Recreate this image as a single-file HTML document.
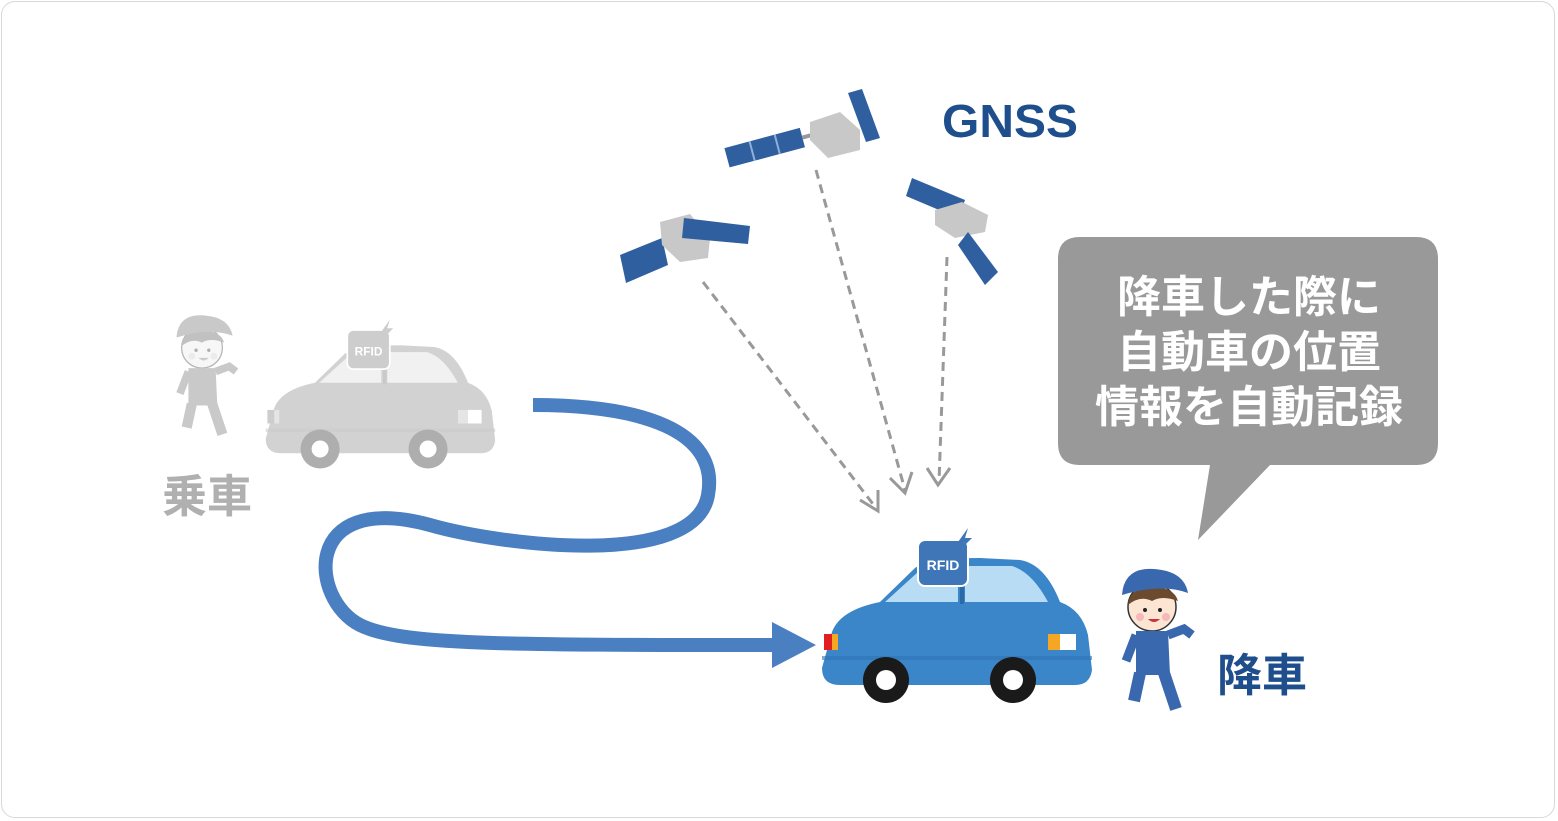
<!DOCTYPE html>
<html><head><meta charset="utf-8"><style>
html,body{margin:0;padding:0;background:#fff;}
body{width:1558px;height:821px;overflow:hidden;position:relative;font-family:"Liberation Sans","Noto Sans CJK JP",sans-serif;}
.card{position:absolute;left:1px;top:1px;width:1554px;height:817px;border:1px solid #d8d8d8;border-radius:14px;box-sizing:border-box;}
</style></head><body>
<div class="card"></div>
<svg width="1558" height="821" style="position:absolute;left:0;top:0">
<defs>
<filter id="gray"><feColorMatrix type="saturate" values="0"/><feComponentTransfer><feFuncA type="linear" slope="0.36"/></feComponentTransfer></filter>
<g id="car">
 <path d="M12,92 Q20,70 60,62 L95,28 Q110,18 160,18 L200,20 Q225,24 240,62 Q262,70 268,95 L272,130 Q270,145 255,145 L20,145 Q2,145 2,128 Z" fill="#3b86c8"/>
 <path d="M65,62 L98,32 Q108,26 138,26 L138,62 Z" fill="#b8dcf4"/>
 <path d="M145,26 L192,26 Q212,32 228,62 L145,62 Z" fill="#b8dcf4"/>
 <rect x="140" y="26" width="4" height="38" fill="#2a6aa8"/>
 <rect x="4" y="94" width="8" height="16" fill="#e02020"/><rect x="12" y="94" width="6" height="16" fill="#f5a623"/>
 <rect x="228" y="94" width="12" height="16" fill="#f5a623"/><rect x="240" y="94" width="16" height="16" fill="#fff"/>
 <rect x="2" y="116" width="270" height="4" fill="#2f74b4" opacity="0.6"/>
 <circle cx="66" cy="140" r="23" fill="#1a1a1a"/><circle cx="66" cy="140" r="10" fill="#fff"/>
 <circle cx="193" cy="140" r="23" fill="#1a1a1a"/><circle cx="193" cy="140" r="10" fill="#fff"/>
 <rect x="98" y="0" width="50" height="46" rx="7" fill="#3e76b8" stroke="#fff" stroke-width="2"/>
 <text x="123" y="30" font-size="14" font-weight="bold" fill="#fff" text-anchor="middle" font-family="Liberation Sans">RFID</text>
 <path d="M148,-12 L138,2 L145,2 L136,14 L152,-2 L145,-2 Z" fill="#3e76b8"/>
</g>
<g id="person">
 <circle cx="40" cy="42" r="24" fill="#fde5d4" stroke="#333" stroke-width="1.5"/>
 <path d="M16,40 Q18,22 40,22 Q62,22 66,36 Q50,30 40,36 Q28,30 16,40Z" fill="#6b4a2e"/>
 <path d="M10,30 Q12,2 42,4 Q72,6 76,28 Q50,18 10,30Z" fill="#3a68ae"/>
 <circle cx="33" cy="45" r="2" fill="#222"/><circle cx="48" cy="45" r="2" fill="#222"/>
 <circle cx="28" cy="52" r="4" fill="#f6b8b8"/><circle cx="54" cy="52" r="4" fill="#f6b8b8"/>
 <path d="M36,54 Q42,60 48,54Z" fill="#c33"/>
 <path d="M24,66 L56,66 L58,110 L24,110Z" fill="#3a68ae"/>
 <path d="M56,70 L72,64 L80,70" stroke="#3a68ae" stroke-width="9" fill="none"/>
 <path d="M24,70 L14,96" stroke="#3a68ae" stroke-width="9" fill="none"/>
 <path d="M28,108 L22,136 M52,108 L64,144" stroke="#3a68ae" stroke-width="12" fill="none"/>
</g>
</defs>

<text x="942" y="137" font-size="46" font-weight="bold" fill="#1f4e8c" font-family="Liberation Sans" textLength="136" lengthAdjust="spacingAndGlyphs">GNSS</text>

<!-- satellites -->
<g transform="translate(756,150) rotate(-15)"><rect x="-30" y="-10" width="78" height="20" fill="#2f5f9f"/><line x1="-4" y1="-10" x2="-4" y2="10" stroke="#8fb0d8" stroke-width="2"/><line x1="22" y1="-10" x2="22" y2="10" stroke="#8fb0d8" stroke-width="2"/><rect x="48" y="-2" width="10" height="4" fill="#999"/></g>
<path d="M810,122 L840,112 L860,130 L860,150 L828,158 L810,140Z" fill="#c8c8c8"/>
<path d="M848,93 L862,89 L880,138 L866,142Z" fill="#2f5f9f"/>
<path d="M620,255 L662,238 L668,265 L626,283Z" fill="#2f5f9f"/>
<path d="M660,222 L690,214 L710,238 L708,258 L680,262 L662,245Z" fill="#c8c8c8"/>
<path d="M684,218 L750,226 L748,244 L682,238Z" fill="#2f5f9f"/>
<path d="M912,178 L965,200 L958,218 L906,196Z" fill="#2f5f9f"/>
<path d="M935,210 L962,202 L988,215 L985,232 L955,238 L935,225Z" fill="#c8c8c8"/>
<path d="M968,232 L998,272 L985,285 L958,245Z" fill="#2f5f9f"/>

<!-- dashed arrows -->
<g stroke="#999" stroke-width="3" stroke-dasharray="9,6" fill="none">
 <line x1="703" y1="282" x2="876" y2="508"/>
 <line x1="816" y1="170" x2="905" y2="490"/>
 <line x1="947" y1="257" x2="939" y2="482"/>
</g>
<g stroke="#999" stroke-width="3" fill="none">
 <path d="M860,500 L878,511 L878,490"/>
 <path d="M890,478 L905,493 L912,472"/>
 <path d="M927,468 L938,485 L950,468"/>
</g>

<!-- speech bubble -->
<path d="M1080,237 L1416,237 Q1438,237 1438,259 L1438,443 Q1438,465 1416,465 L1270,465 L1198,540 L1210,465 L1080,465 Q1058,465 1058,443 L1058,259 Q1058,237 1080,237Z" fill="#999"/>
<g font-size="44" font-weight="bold" fill="#fff" text-anchor="middle">
 <text x="1249" y="312">降車した際に</text>
 <text x="1249" y="367">自動車の位置</text>
 <text x="1249" y="422">情報を自動記録</text>
</g>

<!-- gray car & person -->
<g filter="url(#gray)">
 <use href="#car" transform="translate(264,330) scale(0.85)"/>
 <use href="#person" transform="translate(168,312) scale(0.85)"/>
</g>
<text x="162" y="512" font-size="45" font-weight="bold" fill="#b0b0b0">乗車</text>

<!-- blue curve -->
<path d="M533,405 C640,405 720,430 708,495 C695,570 500,545 430,525 C300,490 310,600 360,625 C400,645 500,645 775,645" stroke="#4a7fc1" stroke-width="14" fill="none"/>
<path d="M772,622 L816,645 L772,668Z" fill="#4a7fc1"/>

<use href="#car" transform="translate(820,540)"/>
<use href="#person" transform="translate(1112,565)"/>
<text x="1217" y="691" font-size="45" font-weight="bold" fill="#1f4e8c">降車</text>
</svg>
</body></html>
